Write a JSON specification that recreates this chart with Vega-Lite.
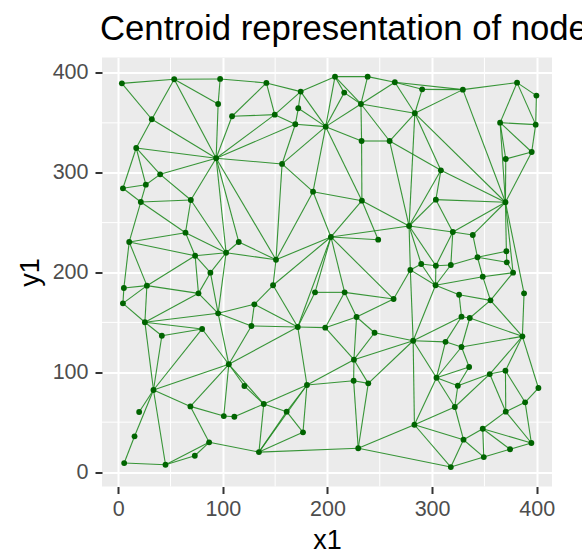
{
  "$schema": "https://vega.github.io/schema/vega-lite/v6.json",
  "width": 450,
  "height": 429,
  "autosize": "none",
  "padding": {"left": 102, "top": 57.5, "right": 30, "bottom": 70.5},
  "background": "white",
  "title": {"text": "Centroid representation of nodes", "anchor": "start", "frame": "group", "fontSize": 34.7, "font": "Liberation Sans", "fontWeight": "normal", "color": "black", "offset": 9, "dx": -2},
  "datasets": {
    "nodes": [
      {"id":1,"x":3.5,"y":389.6},{"id":2,"x":53.5,"y":393.7},{"id":3,"x":97.4,"y":394},{"id":4,"x":95.5,"y":368.9},{"id":5,"x":108.8,"y":356.6},
      {"id":6,"x":32.1,"y":353.6},{"id":7,"x":17.2,"y":324.8},{"id":8,"x":93.6,"y":314.5},{"id":9,"x":40.1,"y":298.4},{"id":10,"x":26.4,"y":288},
      {"id":11,"x":4.5,"y":284.4},{"id":12,"x":21.6,"y":270.7},{"id":13,"x":69.4,"y":272.7},{"id":14,"x":141.6,"y":390},{"id":15,"x":174.4,"y":381.3},
      {"id":16,"x":207.2,"y":396.3},{"id":17,"x":238.4,"y":396.3},{"id":18,"x":264.4,"y":390.7},{"id":19,"x":216,"y":380.3},{"id":20,"x":172.1,"y":364.6},
      {"id":21,"x":232,"y":368.9},{"id":22,"x":149.6,"y":358.2},{"id":23,"x":169.3,"y":348.6},{"id":24,"x":198.3,"y":346.2},{"id":25,"x":232.6,"y":331.8},
      {"id":26,"x":259.4,"y":331.8},{"id":27,"x":156.6,"y":308.8},{"id":28,"x":186.2,"y":281},{"id":29,"x":232.9,"y":272},{"id":30,"x":290.5,"y":383.6},
      {"id":31,"x":329.4,"y":383.3},{"id":32,"x":381.2,"y":390.3},{"id":33,"x":399.7,"y":377.3},{"id":34,"x":283.5,"y":359.6},{"id":35,"x":365,"y":350.2},
      {"id":36,"x":399,"y":348.2},{"id":37,"x":370.4,"y":313.8},{"id":38,"x":395.2,"y":320.8},{"id":39,"x":308.4,"y":302.4},{"id":40,"x":303.6,"y":273},
      {"id":41,"x":370.1,"y":270.4},{"id":42,"x":64.3,"y":239.9},{"id":43,"x":10.5,"y":230.6},{"id":44,"x":73.5,"y":216.8},{"id":45,"x":103.1,"y":219.8},
      {"id":46,"x":115.2,"y":230.6},{"id":47,"x":88.1,"y":199.8},{"id":48,"x":5.4,"y":184.5},{"id":49,"x":27.4,"y":186.8},{"id":50,"x":76.7,"y":179.1},
      {"id":51,"x":4.5,"y":169.1},{"id":52,"x":130.1,"y":168.1},{"id":53,"x":95.5,"y":159.1},{"id":54,"x":25.5,"y":150.1},{"id":55,"x":127.3,"y":146.4},
      {"id":56,"x":80.2,"y":143.4},{"id":57,"x":41.7,"y":136.6},{"id":58,"x":278,"y":246.6},{"id":59,"x":203.3,"y":235.6},{"id":60,"x":248.5,"y":232.9},
      {"id":61,"x":150.8,"y":212.8},{"id":62,"x":148,"y":187.2},{"id":63,"x":188.1,"y":180.1},{"id":64,"x":216.4,"y":180.1},{"id":65,"x":263.2,"y":173.4},
      {"id":66,"x":279.2,"y":202.6},{"id":67,"x":227.8,"y":155.4},{"id":68,"x":245,"y":139.6},{"id":69,"x":171.6,"y":145.4},{"id":70,"x":197.9,"y":144.7},
      {"id":71,"x":319.8,"y":240.6},{"id":72,"x":338.9,"y":237.6},{"id":73,"x":371,"y":221.3},{"id":74,"x":343.4,"y":215.3},{"id":75,"x":289.6,"y":208.5},
      {"id":76,"x":303.6,"y":206.8},{"id":77,"x":317.9,"y":207.5},{"id":78,"x":371.4,"y":210.2},{"id":79,"x":348.4,"y":195.8},{"id":80,"x":377.4,"y":199.8},
      {"id":81,"x":303.3,"y":187.2},{"id":82,"x":325.8,"y":177.7},{"id":83,"x":387.9,"y":179.1},{"id":84,"x":355.8,"y":172.1},{"id":85,"x":328.1,"y":155.7},
      {"id":86,"x":336,"y":154.4},{"id":87,"x":386.3,"y":136},{"id":88,"x":281.9,"y":131.6},{"id":89,"x":312.8,"y":130.5},{"id":90,"x":105.7,"y":108},
      {"id":91,"x":33.7,"y":82.2},{"id":92,"x":120.6,"y":86.2},{"id":93,"x":69,"y":65.8},{"id":94,"x":20,"y":60.2},{"id":95,"x":100.9,"y":56.1},
      {"id":96,"x":111,"y":55.4},{"id":97,"x":15.6,"y":35.8},{"id":98,"x":86.9,"y":29.8},{"id":99,"x":134.5,"y":20},{"id":100,"x":73.2,"y":16.3},
      {"id":101,"x":5.7,"y":9},{"id":102,"x":45.2,"y":7.3},{"id":103,"x":225.3,"y":112.6},{"id":104,"x":225,"y":91.5},{"id":105,"x":239,"y":88.9},
      {"id":106,"x":180.4,"y":87.2},{"id":107,"x":139.1,"y":68.2},{"id":108,"x":161,"y":60.5},{"id":109,"x":176.6,"y":39.8},{"id":110,"x":229.4,"y":23.8},
      {"id":111,"x":328.1,"y":125.3},{"id":112,"x":335.4,"y":105.3},{"id":113,"x":304.2,"y":94.5},{"id":114,"x":355.1,"y":98.2},{"id":115,"x":370.1,"y":101.6},
      {"id":116,"x":324.6,"y":86.5},{"id":117,"x":401.6,"y":84.2},{"id":118,"x":388.9,"y":69.9},{"id":119,"x":321.7,"y":65.2},{"id":120,"x":370.4,"y":60.5},
      {"id":121,"x":283.1,"y":47.4},{"id":122,"x":348.4,"y":43.4},{"id":123,"x":330,"y":32.4},{"id":124,"x":394.9,"y":29.1},{"id":125,"x":374.5,"y":22.8},
      {"id":126,"x":349.4,"y":15},{"id":127,"x":317.9,"y":5}
    ],
    "edges": [
      {"s":1,"t":2},{"s":1,"t":6},{"s":2,"t":3},{"s":2,"t":4},{"s":2,"t":6},{"s":2,"t":8},{"s":3,"t":4},{"s":3,"t":14},{"s":4,"t":8},{"s":5,"t":8},
      {"s":5,"t":14},{"s":5,"t":22},{"s":6,"t":7},{"s":6,"t":8},{"s":7,"t":8},{"s":7,"t":9},{"s":7,"t":10},{"s":7,"t":11},{"s":8,"t":9},{"s":8,"t":13},
      {"s":8,"t":22},{"s":8,"t":23},{"s":8,"t":27},{"s":8,"t":45},{"s":8,"t":46},{"s":8,"t":61},{"s":9,"t":10},{"s":9,"t":13},{"s":10,"t":11},{"s":10,"t":12},
      {"s":11,"t":12},{"s":12,"t":13},{"s":12,"t":42},{"s":12,"t":43},{"s":13,"t":42},{"s":13,"t":45},
      {"s":14,"t":15},{"s":14,"t":22},{"s":15,"t":16},{"s":15,"t":20},{"s":15,"t":22},{"s":15,"t":24},{"s":16,"t":17},{"s":16,"t":19},{"s":16,"t":21},{"s":16,"t":24},
      {"s":17,"t":18},{"s":17,"t":21},{"s":18,"t":21},{"s":18,"t":30},{"s":18,"t":31},{"s":18,"t":34},{"s":19,"t":21},{"s":19,"t":24},{"s":20,"t":23},{"s":20,"t":24},
      {"s":21,"t":24},{"s":21,"t":25},{"s":21,"t":26},{"s":21,"t":34},{"s":22,"t":23},{"s":23,"t":24},{"s":23,"t":27},{"s":24,"t":25},{"s":24,"t":27},{"s":24,"t":28},
      {"s":24,"t":29},{"s":25,"t":26},{"s":25,"t":29},{"s":26,"t":34},{"s":26,"t":39},{"s":26,"t":58},{"s":27,"t":28},{"s":27,"t":61},{"s":28,"t":29},{"s":28,"t":59},
      {"s":28,"t":61},{"s":29,"t":58},{"s":29,"t":59},{"s":29,"t":60},{"s":58,"t":59},{"s":59,"t":60},
      {"s":30,"t":31},{"s":30,"t":34},{"s":31,"t":32},{"s":31,"t":34},{"s":31,"t":41},{"s":32,"t":33},{"s":32,"t":35},{"s":32,"t":36},{"s":33,"t":36},{"s":34,"t":39},
      {"s":34,"t":41},{"s":34,"t":58},{"s":35,"t":36},{"s":35,"t":37},{"s":35,"t":38},{"s":35,"t":41},{"s":36,"t":38},{"s":37,"t":38},{"s":37,"t":41},{"s":38,"t":41},
      {"s":39,"t":40},{"s":39,"t":41},{"s":39,"t":58},{"s":40,"t":41},{"s":40,"t":58},
      {"s":42,"t":43},{"s":42,"t":44},{"s":42,"t":45},{"s":43,"t":44},{"s":43,"t":48},{"s":43,"t":49},{"s":44,"t":45},{"s":44,"t":47},{"s":44,"t":49},{"s":44,"t":50},
      {"s":45,"t":46},{"s":45,"t":47},{"s":45,"t":53},{"s":45,"t":61},{"s":46,"t":61},{"s":47,"t":50},{"s":47,"t":53},{"s":48,"t":49},{"s":48,"t":51},{"s":49,"t":50},
      {"s":49,"t":51},{"s":49,"t":54},{"s":50,"t":53},{"s":50,"t":54},{"s":51,"t":54},{"s":52,"t":53},{"s":52,"t":55},{"s":52,"t":62},{"s":53,"t":54},{"s":53,"t":55},
      {"s":53,"t":90},{"s":54,"t":56},{"s":54,"t":57},{"s":54,"t":91},{"s":55,"t":90},{"s":56,"t":57},{"s":56,"t":90},{"s":56,"t":91},{"s":57,"t":91},
      {"s":59,"t":61},{"s":59,"t":62},{"s":59,"t":63},{"s":59,"t":64},{"s":59,"t":65},{"s":59,"t":69},{"s":61,"t":62},{"s":52,"t":69},{"s":55,"t":69},{"s":62,"t":69},
      {"s":63,"t":64},{"s":63,"t":69},{"s":64,"t":65},{"s":64,"t":67},{"s":64,"t":70},{"s":65,"t":66},{"s":65,"t":67},{"s":67,"t":68},{"s":67,"t":70},{"s":67,"t":103},
      {"s":68,"t":88},{"s":68,"t":103},{"s":69,"t":70},{"s":69,"t":106},{"s":70,"t":103},{"s":58,"t":66},
      {"s":40,"t":71},{"s":41,"t":71},{"s":41,"t":72},{"s":41,"t":73},{"s":41,"t":80},{"s":41,"t":83},{"s":58,"t":71},{"s":58,"t":75},{"s":58,"t":76},{"s":71,"t":72},
      {"s":71,"t":76},{"s":71,"t":77},{"s":72,"t":74},{"s":73,"t":74},{"s":73,"t":78},{"s":74,"t":77},{"s":74,"t":78},{"s":74,"t":79},{"s":75,"t":76},{"s":66,"t":75},
      {"s":75,"t":81},{"s":76,"t":77},{"s":76,"t":81},{"s":77,"t":81},{"s":79,"t":80},{"s":79,"t":81},{"s":79,"t":84},{"s":78,"t":80},{"s":80,"t":84},{"s":81,"t":82},
      {"s":82,"t":84},{"s":82,"t":85},{"s":83,"t":87},{"s":84,"t":86},{"s":84,"t":87},{"s":85,"t":86},{"s":85,"t":88},{"s":85,"t":89},{"s":86,"t":87},{"s":86,"t":111},{"s":66,"t":81},
      {"s":66,"t":88},{"s":81,"t":88},{"s":88,"t":89},
      {"s":69,"t":90},{"s":90,"t":91},{"s":90,"t":92},{"s":90,"t":93},{"s":90,"t":95},{"s":90,"t":107},{"s":91,"t":93},{"s":91,"t":94},{"s":91,"t":97},{"s":97,"t":101},
      {"s":91,"t":102},{"s":92,"t":107},{"s":93,"t":95},{"s":93,"t":98},{"s":95,"t":96},{"s":96,"t":107},{"s":98,"t":99},{"s":98,"t":100},{"s":98,"t":102},{"s":100,"t":102},
      {"s":101,"t":102},
      {"s":103,"t":104},{"s":103,"t":105},{"s":103,"t":106},{"s":88,"t":103},{"s":104,"t":105},{"s":104,"t":106},{"s":104,"t":110},{"s":105,"t":110},{"s":88,"t":105},{"s":106,"t":107},
      {"s":106,"t":108},{"s":106,"t":109},{"s":99,"t":106},{"s":107,"t":108},{"s":99,"t":107},{"s":108,"t":109},{"s":99,"t":108},{"s":99,"t":109},{"s":99,"t":110},{"s":110,"t":121},
      {"s":110,"t":127},
      {"s":88,"t":113},{"s":88,"t":121},{"s":89,"t":111},{"s":89,"t":113},{"s":87,"t":111},{"s":111,"t":112},{"s":111,"t":113},{"s":87,"t":114},{"s":87,"t":115},{"s":87,"t":117},
      {"s":112,"t":113},{"s":112,"t":116},{"s":113,"t":116},{"s":113,"t":119},{"s":113,"t":121},{"s":114,"t":115},{"s":114,"t":116},{"s":114,"t":119},{"s":114,"t":120},{"s":115,"t":118},
      {"s":115,"t":120},{"s":116,"t":119},{"s":117,"t":118},{"s":118,"t":120},{"s":118,"t":124},{"s":119,"t":121},{"s":119,"t":123},{"s":120,"t":122},{"s":120,"t":124},{"s":121,"t":123},
      {"s":121,"t":127},{"s":122,"t":123},{"s":122,"t":124},{"s":122,"t":125},{"s":122,"t":126},{"s":123,"t":126},{"s":123,"t":127},{"s":124,"t":125},{"s":125,"t":126},{"s":126,"t":127}
    ],
    "minor": [{"v":50},{"v":150},{"v":250},{"v":350}]
  },
  "layer": [
    {
      "data": {"name": "minor"},
      "mark": {"type": "rule", "color": "white", "strokeWidth": 1},
      "encoding": {"x": {"field": "v", "type": "quantitative"}}
    },
    {
      "data": {"name": "minor"},
      "mark": {"type": "rule", "color": "white", "strokeWidth": 1},
      "encoding": {"y": {"field": "v", "type": "quantitative"}}
    },
    {
      "data": {"name": "edges"},
      "transform": [
        {"lookup": "s", "from": {"data": {"name": "nodes"}, "key": "id", "fields": ["x", "y"]}, "as": ["sx", "sy"]},
        {"lookup": "t", "from": {"data": {"name": "nodes"}, "key": "id", "fields": ["x", "y"]}, "as": ["tx", "ty"]}
      ],
      "mark": {"type": "rule", "color": "#228B22", "strokeWidth": 1.1, "opacity": 0.9},
      "encoding": {
        "x": {"field": "sx", "type": "quantitative"},
        "y": {"field": "sy", "type": "quantitative"},
        "x2": {"field": "tx"},
        "y2": {"field": "ty"}
      }
    },
    {
      "data": {"name": "nodes"},
      "mark": {"type": "circle", "color": "#006400", "size": 34, "opacity": 1},
      "encoding": {
        "x": {"field": "x", "type": "quantitative", "scale": {"domain": [-15.5, 414.6], "nice": false, "zero": false}, "axis": {"values": [0, 100, 200, 300, 400], "title": "x1", "titlePadding": 7}},
        "y": {"field": "y", "type": "quantitative", "scale": {"domain": [-14.5, 415.5], "nice": false, "zero": false}, "axis": {"values": [0, 100, 200, 300, 400], "title": "y1", "titlePadding": 8, "labelPadding": 7}}
      }
    }
  ],
  "config": {
    "view": {"fill": "#EBEBEB", "stroke": null},
    "axis": {
      "domain": false, "grid": true, "gridColor": "white", "gridWidth": 2,
      "tickColor": "#333333", "tickWidth": 2, "tickSize": 7,
      "labelColor": "#4D4D4D", "labelFontSize": 21.5, "labelFont": "Liberation Sans", "labelPadding": 5,
      "titleFont": "Liberation Sans", "titleFontSize": 27, "titleFontWeight": "normal", "titleColor": "black"
    }
  }
}
